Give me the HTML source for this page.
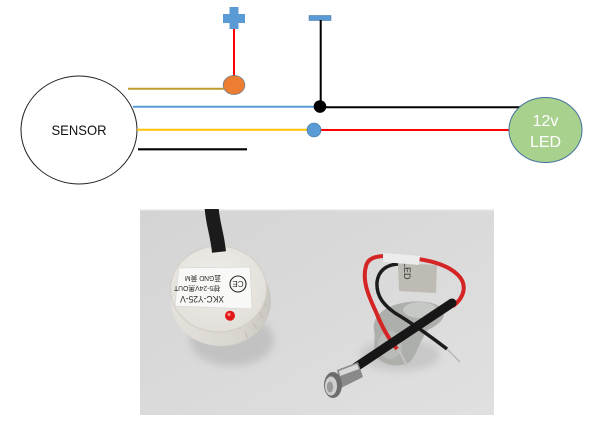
<!DOCTYPE html>
<html>
<head>
<meta charset="utf-8">
<style>
  html,body{margin:0;padding:0;background:#ffffff;}
  body{width:600px;height:431px;overflow:hidden;}
  svg{display:block;}
  text{font-family:"Liberation Sans","Noto Sans CJK SC",sans-serif;}
</style>
</head>
<body>
<svg width="600" height="431" viewBox="0 0 600 431" xmlns="http://www.w3.org/2000/svg">
  <defs>
    <linearGradient id="bg" x1="0" y1="0" x2="1" y2="1">
      <stop offset="0" stop-color="#d4d4d4"/>
      <stop offset="0.5" stop-color="#dadada"/>
      <stop offset="1" stop-color="#e0e0e0"/>
    </linearGradient>
    <radialGradient id="face" cx="0.45" cy="0.4" r="0.7">
      <stop offset="0" stop-color="#f0eeea"/>
      <stop offset="1" stop-color="#e0ddd7"/>
    </radialGradient>
    <linearGradient id="side" x1="0" y1="0" x2="1" y2="0">
      <stop offset="0" stop-color="#e4e1dc"/>
      <stop offset="0.7" stop-color="#d8d4ce"/>
      <stop offset="1" stop-color="#c9c5bf"/>
    </linearGradient>
    <filter id="blur1" x="-30%" y="-30%" width="160%" height="160%">
      <feGaussianBlur stdDeviation="4"/>
    </filter>
    <clipPath id="photoClip">
      <rect x="140" y="209" width="354" height="206"/>
    </clipPath>
  </defs>

  <!-- ================= DIAGRAM ================= -->
  <ellipse cx="79" cy="130" rx="58" ry="54" fill="#ffffff" stroke="#222" stroke-width="1"/>
  <text x="79" y="135" font-size="14" text-anchor="middle" fill="#111" textLength="55" lengthAdjust="spacingAndGlyphs">SENSOR</text>

  <rect x="223" y="14" width="22" height="9" fill="#5b9bd5"/>
  <rect x="229.5" y="7" width="9" height="22" fill="#5b9bd5"/>
  <line x1="234" y1="29" x2="234" y2="78" stroke="#ff0000" stroke-width="2"/>
  <line x1="128" y1="88.7" x2="224" y2="88.7" stroke="#c09a2e" stroke-width="2"/>
  <ellipse cx="234" cy="85" rx="10.8" ry="9.5" fill="#ed7d31" stroke="#6f7f90" stroke-width="0.8"/>

  <rect x="309" y="15.5" width="22" height="5" fill="#5b9bd5" stroke="#41719c" stroke-width="0.5"/>
  <line x1="320.7" y1="20" x2="320.7" y2="106" stroke="#000" stroke-width="2"/>

  <line x1="133" y1="106.7" x2="318" y2="106.7" stroke="#5b9bd5" stroke-width="2"/>
  <line x1="320" y1="107.3" x2="522" y2="107.3" stroke="#000" stroke-width="2"/>
  <circle cx="320" cy="106.5" r="6.3" fill="#000"/>

  <line x1="137" y1="129.7" x2="310" y2="129.7" stroke="#ffc000" stroke-width="2"/>
  <line x1="314" y1="130" x2="512" y2="130" stroke="#ff0000" stroke-width="2"/>
  <circle cx="314" cy="130" r="7" fill="#5b9bd5" stroke="#41719c" stroke-width="0.6"/>

  <line x1="138" y1="149.3" x2="247" y2="149.3" stroke="#000" stroke-width="2.2"/>

  <ellipse cx="545.5" cy="130" rx="36.5" ry="32.5" fill="#a9d18e" stroke="#41719c" stroke-width="1"/>
  <text x="545.5" y="126" font-size="16" text-anchor="middle" fill="#ffffff">12v</text>
  <text x="545.5" y="147" font-size="16" text-anchor="middle" fill="#ffffff">LED</text>

  <!-- ================= PHOTO ================= -->
  <g clip-path="url(#photoClip)">
    <rect x="140" y="209" width="354" height="206" fill="url(#bg)"/>
    <rect x="140" y="209" width="354" height="1.5" fill="#eeeeee"/>

    <!-- sensor shadow -->
    <ellipse cx="232" cy="340" rx="42" ry="26" fill="#c2c2c2" filter="url(#blur1)"/>
    <!-- sensor body (side) -->
    <ellipse cx="221" cy="301" rx="50" ry="45" fill="url(#side)"/>
    <!-- ribs on right side -->
    <g stroke="#c3bfb8" stroke-width="1.2">
      <line x1="262" y1="300" x2="266" y2="306"/>
      <line x1="259" y1="312" x2="263" y2="318"/>
      <line x1="253" y1="323" x2="257" y2="329"/>
      <line x1="245" y1="332" x2="248" y2="338"/>
    </g>
    <!-- sensor face -->
    <ellipse cx="218.5" cy="289" rx="48" ry="43" fill="url(#face)"/>
    <ellipse cx="218.5" cy="289" rx="48" ry="43" fill="none" stroke="#d3cfc8" stroke-width="1.2"/>
    <!-- cable -->
    <path d="M 211.5 205 C 212 222, 217 232, 219 252" stroke="#1b1b1b" stroke-width="14" fill="none"/>
    <!-- label -->
    <polygon points="179,268 250,267 252,309 175,306" fill="#f8f8f6" stroke="#d0d0d0" stroke-width="0.5"/>
    <g transform="rotate(180 213 288)" fill="#2a2a2a">
      <text x="224" y="280" font-size="9" text-anchor="middle" font-family="Liberation Serif, serif" textLength="44" lengthAdjust="spacingAndGlyphs">XKC-Y25-V</text>
      <text x="229" y="290" font-size="7" text-anchor="middle" textLength="46" lengthAdjust="spacingAndGlyphs">棕5-24V黑OUT</text>
      <text x="223" y="300" font-size="7" text-anchor="middle" textLength="36" lengthAdjust="spacingAndGlyphs">蓝GND 黄M</text>
      <circle cx="188" cy="292" r="8" fill="none" stroke="#2a2a2a" stroke-width="1.1"/>
      <text x="188" y="295" font-size="8" text-anchor="middle">CE</text>
    </g>
    <!-- red LED on sensor -->
    <circle cx="230" cy="315.7" r="5" fill="#e01818"/>
    <circle cx="229" cy="314.5" r="1.6" fill="#ff8a8a"/>

    <!-- LED assembly shadow -->
    <ellipse cx="400" cy="355" rx="40" ry="16" fill="#c8c8c8" filter="url(#blur1)"/>
    <!-- putty blob -->
    <path d="M 374 330 C 372 318, 382 308, 398 304 C 412 300, 432 300, 442 308 C 448 316, 440 324, 428 330 C 420 340, 418 352, 410 362 C 400 368, 382 366, 376 356 C 372 348, 376 338, 374 330 Z" fill="#acafaa"/>
    <ellipse cx="420" cy="310" rx="17" ry="8" fill="#c6c8c4"/>
    <ellipse cx="390" cy="345" rx="12" ry="14" fill="#b8bbb6"/>

    <!-- black thin wire -->
    <path d="M 404 264 C 390 263, 379 268, 377 282 C 376 297, 385 306, 395 313 C 410 322, 430 336, 447 349" stroke="#1c1c1c" stroke-width="3.5" fill="none"/>
    <line x1="447" y1="349" x2="460" y2="362" stroke="#b8b8b8" stroke-width="1.5"/>

    <!-- paper label -->
    <polygon points="398,263 437,265 436,293 399,291" fill="#bebbb4"/>
    <text x="0" y="0" font-size="9" fill="#333" transform="translate(404 262) rotate(90)">LED</text>

    <!-- red wire -->
    <path d="M 397 349 C 390 340, 383 330, 376 312 C 368 295, 362 280, 366 266 C 368 258, 376 256, 386 256 L 418 259 C 432 261, 448 265, 458 275 C 468 285, 464 298, 453 306" stroke="#d42424" stroke-width="4" fill="none"/>
    <line x1="399" y1="350" x2="407" y2="366" stroke="#c4c4c4" stroke-width="2"/>
    <!-- white tape around top -->
    <polygon points="383,253 420,256 419,265 383,262" fill="#ececec"/>

    <!-- black heat-shrink tube -->
    <line x1="452" y1="303" x2="356" y2="367" stroke="#171717" stroke-width="9" stroke-linecap="round"/>

    <!-- metal LED bezel -->
    <polygon points="337,370 358,362 363,377 341,388" fill="#8a8a8a"/>
    <polygon points="339,371 357,364 359,369 340,376" fill="#d8d8d8"/>
    <ellipse cx="333" cy="385" rx="9" ry="13" fill="#6c6c6c"/>
    <ellipse cx="331" cy="386" rx="6" ry="9.5" fill="#cfcfcf"/>
    <ellipse cx="330" cy="387" rx="3.2" ry="5.5" fill="#999"/>
  </g>
</svg>
</body>
</html>
